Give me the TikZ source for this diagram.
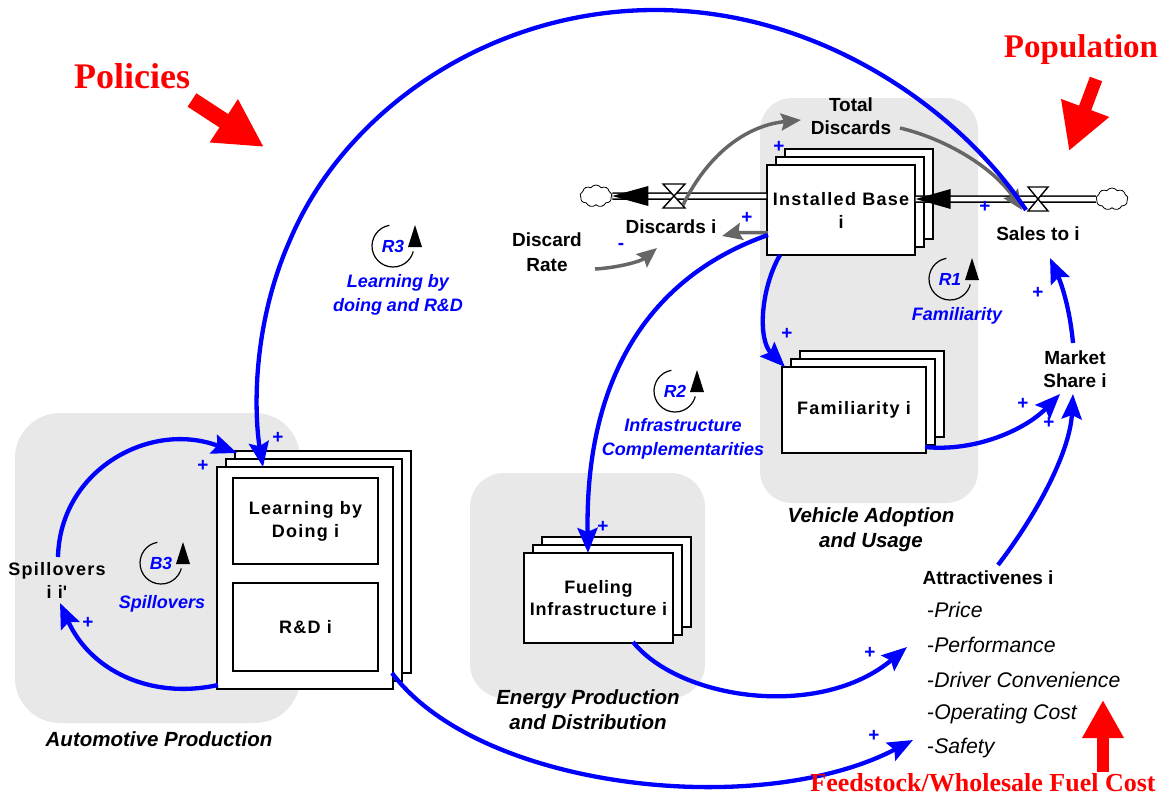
\documentclass[tikz,border=0pt]{standalone}
\usepackage{fontspec}
\setmainfont{Liberation Sans}
\newfontfamily\headfont{Liberation Serif}
\newfontfamily\spacedfont[LetterSpace=7]{Liberation Sans}
\newfontfamily\tightfont[LetterSpace=4]{Liberation Sans}
\usetikzlibrary{arrows.meta,calc,shapes.symbols}
\definecolor{regiongray}{RGB}{232,232,232}
\definecolor{linkgray}{RGB}{102,102,102}
\definecolor{linkblue}{RGB}{0,0,255}

% two stacked copies behind a front box given by its corners
\newcommand\backstack[4]{%
  \foreach \k in {2,1}{\filldraw[stackline] ({#1+9*\k},{#2-8*\k}) rectangle ({#3+9*\k},{#4-8*\k});}}
% loop polarity marker drawn around a loop identifier node
\newcommand\loopmark[1]{%
  \draw[line width=1.2pt] ($(#1)+(260:21)$) arc[start angle=260, end angle=15, radius=21];
  \fill ($(#1)+(15,1)$) -- ($(#1)+(29,1)$) -- ($(#1)+(22,-21)$) -- cycle;}

\begin{document}
\begin{tikzpicture}[x=1pt,y=-1pt,
  region/.style={fill=regiongray, rounded corners=#1},
  stackline/.style={draw=black, fill=white, line width=1.4pt},
  boxfont/.style={font=\spacedfont\fontsize{18}{23}\selectfont\bfseries},
  stockbox/.style={stackline, boxfont, inner sep=0pt, align=center},
  varlbl/.style={inner sep=0pt, align=center, font=\fontsize{19}{23}\selectfont\bfseries},
  grouplbl/.style={inner sep=0pt, align=center, font=\fontsize{20.5}{25}\selectfont\bfseries\itshape},
  loopname/.style={inner sep=0pt, align=center, text=linkblue, font=\fontsize{18}{24}\selectfont\bfseries\itshape},
  loopid/.style={inner sep=0pt, text=linkblue, font=\fontsize{17.5}{17.5}\selectfont\bfseries\itshape},
  attrib/.style={inner sep=0pt, anchor=west, font=\fontsize{21.2}{21.2}\selectfont},
  polarity/.style={inner sep=0pt, text=linkblue, font=\fontsize{19}{19}\selectfont\bfseries},
  bluelink/.style={draw=linkblue, line width=4.3pt, -{Stealth[length=25pt,width=20pt,inset=4pt]}},
  graylink/.style={draw=linkgray, line width=3.5pt, -{Stealth[length=20pt,width=17pt,inset=3pt]}},
  pipe/.style={draw=black, double=white, double distance=4.5pt, line width=1.5pt},
  valve/.style={draw=black, fill=white, line width=1.4pt},
  source/.style={cloud, cloud puffs=9, cloud puff arc=110, aspect=1.5, draw=black, fill=white,
    line width=0.8pt, minimum width=32pt, minimum height=22pt, inner sep=0pt},
  driver/.style={inner sep=0pt, anchor=base, text=red, font=\headfont\fontsize{#1}{#1}\selectfont\bfseries},
]
\useasboundingbox (0,0) rectangle (1165,795);

% sector regions
\fill[region=45] (15,413) rectangle (300,723);
\fill[region=34] (470,473) rectangle (705,698);
\fill[region=32] (760,98) rectangle (978,503);
\node[grouplbl] (autolbl) at (159,739) {Automotive Production};
\node[grouplbl] (energylbl) at (588,710) {Energy Production\\and Distribution};
\node[grouplbl] (vehiclelbl) at (871,530) {Vehicle Adoption\\and Usage};

% stocks
\backstack{767}{165}{915}{255}
\node[stockbox, minimum width=148pt, minimum height=90pt] (stock) at (841,210) {Installed Base\\i};
\backstack{782}{367}{926}{453}
\node[stockbox, minimum width=144pt, minimum height=86pt] (famil) at (854,410) {Familiarity i};
\backstack{524}{553}{673}{643}
\node[stockbox, font=\tightfont\fontsize{18}{22}\selectfont\bfseries, minimum width=149pt, minimum height=90pt] (fuel) at (598.5,598) {Fueling\\Infrastructure i};
\backstack{217}{467}{393}{689}
\node[stockbox, minimum width=176pt, minimum height=222pt] (learnstack) at (305,578) {};
\node[stockbox, minimum width=145pt, minimum height=86pt] (lbd) at (305.5,521) {Learning by\\Doing i};
\node[stockbox, minimum width=145pt, minimum height=88pt] (rnd) at (305.5,627) {R\&D i};

% flows in and out of the installed base
\node[source] (cloudL) at (596,196) {};
\node[source] (cloudR) at (1112,199) {};
\draw[pipe] (cloudL.east) -- ($(stock.west)+(0,-14)$);
\draw[pipe] ($(stock.east)+(0,-11)$) -- (cloudR.west);
\fill (cloudL.east) -- ++(36,-10) -- ++(0,20) -- cycle;
\fill ($(stock.east)+(0,-11)$) -- ++(35,-10) -- ++(0,20) -- cycle;
\coordinate (vL) at (674,196);
\coordinate (vR) at (1038,199);
\draw[valve] ($(vL)+(-11,-12)$) -- ($(vL)+(11,-12)$) -- ($(vL)+(-11,12)$) -- ($(vL)+(11,12)$) -- cycle;
\draw[valve] ($(vR)+(-10,-12)$) -- ($(vR)+(10,-12)$) -- ($(vR)+(-10,12)$) -- ($(vR)+(10,12)$) -- cycle;

% auxiliary variables
\node[varlbl] (total) at (851,116) {Total\\Discards};
\node[varlbl] (discards) at (671,227) {Discards i};
\node[varlbl, font=\fontsize{19}{25}\selectfont\bfseries] (discrate) at (547,252) {Discard\\Rate};
\node[varlbl] (sales) at (1038,234) {Sales to i};
\node[varlbl] (market) at (1075,369) {Market\\Share i};
\node[varlbl] (attr) at (988,578) {Attractivenes i};
\node[boxfont, inner sep=0pt, align=center] (spill) at (57,580) {Spillovers\\i i\textquotesingle};

\node[attrib] (price) at (927,610) {-\textit{Price}};
\node[attrib] (perf) at (927,645) {-\textit{Performance}};
\node[attrib] (conv) at (927,680) {-\textit{Driver Convenience}};
\node[attrib] (opcost) at (927,714) {-\textit{Operating Cost}};
\node[attrib] (safety) at (927,748) {-\textit{Safety}};

% feedback loops
\node[loopid] (r3) at (393,246) {R3};
\loopmark{r3}
\node[loopname] (r3name) at (398,295) {Learning by\\doing and R\&D};
\node[loopid] (r2) at (675,391) {R2};
\loopmark{r2}
\node[loopname] (r2name) at (683,439) {Infrastructure\\Complementarities};
\node[loopid] (r1) at (950,279) {R1};
\loopmark{r1}
\node[loopname] (r1name) at (957,316) {Familiarity};
\node[loopid] (b3) at (161,563) {B3};
\loopmark{b3}
\node[loopname] (b3name) at (162,604) {Spillovers};

% causal links
\draw[graylink] ($(vL)+(9,9)$) .. controls (710,150) and (750,125) .. ($(total.center)+(-50,4)$);
\draw[graylink] ($(total.center)+(49,12)$) .. controls (950,140) and (995,170) .. ($(vR)+(-16,11)$);
\draw[graylink] ($(stock.center)+(-73,23)$) .. controls (750,232) and (735,233) .. ($(discards.center)+(51,9)$);
\draw[graylink] ($(discrate.center)+(48,17)$) .. controls (615,268) and (640,262) .. ($(discards.center)+(-14,21)$);

\draw[bluelink] ($(sales.center)+(-12,-24)$) .. controls (960,110) and (820,10) .. (655,10)
  .. controls (490,10) and (345,110) .. (290,240)
  .. controls (250,330) and (255,420) .. ($(learnstack.center)+(-42,-111)$);
\draw[bluelink] ($(stock.center)+(-61,45)$) .. controls (760,290) and (758,340) .. ($(famil.center)+(-69,-43)$);
\draw[bluelink] ($(stock.center)+(-73,25)$) .. controls (640,280) and (585,390) .. ($(fuel.center)+(-10.5,-45)$);
\draw[bluelink] ($(famil.center)+(71,37)$) .. controls (975,452) and (1025,430) .. ($(market.center)+(-15,25)$);
\draw[bluelink] ($(market.center)+(-2,-26)$) .. controls (1070,310) and (1062,285) .. ($(sales.center)+(12,24)$);
\draw[bluelink] ($(attr.center)+(10,-13)$) .. controls (1040,510) and (1070,450) .. ($(market.center)+(-2,25)$);
\draw[bluelink] ($(fuel.center)+(34.5,44)$) .. controls (680,700) and (820,720) .. ($(attr.center)+(-81,69)$);
\draw[bluelink] ($(learnstack.center)+(87,95)$) .. controls (480,790) and (760,820) .. ($(attr.center)+(-75,162)$);
\draw[bluelink] ($(spill.center)+(1,-23)$) .. controls (60,470) and (150,420) .. ($(learnstack.center)+(-68,-125)$);
\draw[bluelink] ($(learnstack.center)+(-87,107)$) .. controls (150,700) and (90,670) .. ($(spill.center)+(3,23)$);

% link polarities
\node[polarity] (p1) at (278,438) {+};
\node[polarity] (p2) at (203,466) {+};
\node[polarity] (p3) at (88,623) {+};
\node[polarity] (p4) at (603,527) {+};
\node[polarity] (p5) at (747,218) {+};
\node[polarity] (p6) at (779,147) {+};
\node[polarity] (p7) at (985,207) {+};
\node[polarity] (p8) at (787,334) {+};
\node[polarity] (p9) at (1038,293) {+};
\node[polarity] (p10) at (1023,404) {+};
\node[polarity] (p11) at (1049,423) {+};
\node[polarity] (p12) at (870,653) {+};
\node[polarity] (p13) at (874,736) {+};
\node[polarity] (m1) at (621,246) {-};

% exogenous drivers
\node[driver=36] (policies) at (132,88) {Policies};
\node[driver=33] (population) at (1081,57) {Population};
\node[driver=26] (feedstock) at (983,791) {Feedstock/Wholesale Fuel Cost};
\coordinate (polTail) at (192,100);
\coordinate (polTip) at (264,147);
\draw[red, line width=16pt, -{Triangle[length=48pt,width=48pt]}] (polTail) -- (polTip);
\coordinate (popTail) at (1096,79);
\coordinate (popTip) at (1069,151);
\draw[red, line width=13pt, -{Triangle[length=46pt,width=48pt]}] (popTail) -- (popTip);
\coordinate (feedTail) at (1103,772);
\coordinate (feedTip) at (1103,700);
\draw[red, line width=12pt, -{Triangle[length=38pt,width=39pt]}] (feedTail) -- (feedTip);
\end{tikzpicture}
\end{document}
